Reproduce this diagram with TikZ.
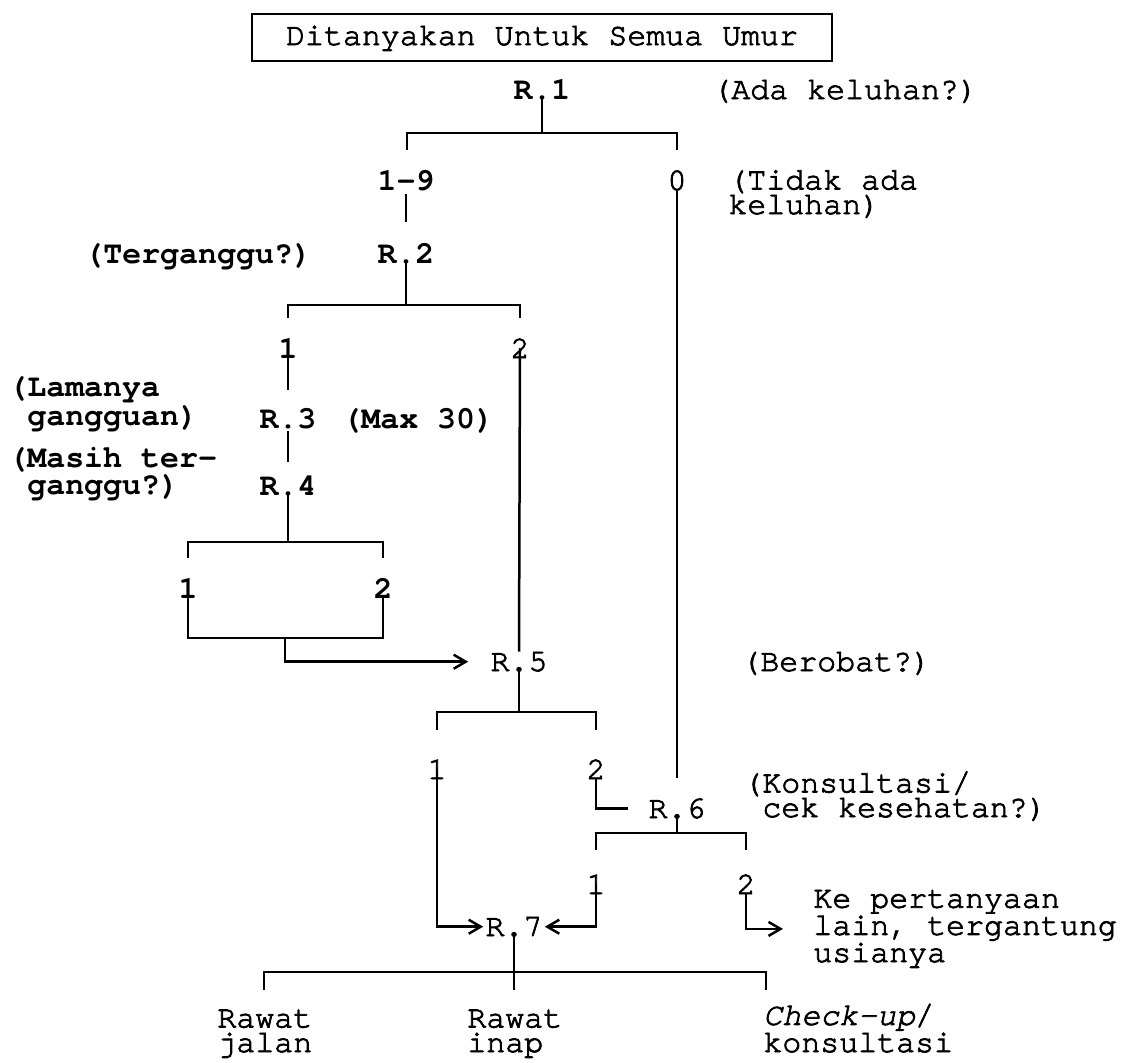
\documentclass[tikz,border=0pt]{standalone}
\usepackage{fontspec}
\setmonofont{texgyrecursor}[Extension=.otf,UprightFont=*-regular,BoldFont=*-bold,ItalicFont=*-italic,BoldItalicFont=*-bolditalic,UprightFeatures={FakeBold=2.5},ItalicFeatures={FakeBold=2.5}]
\usetikzlibrary{arrows.meta}
\newcommand{\qfont}{\ttfamily\fontsize{15.8}{12.3}\selectfont}
\newcommand{\qbfont}{\ttfamily\bfseries\fontsize{15.8}{12.3}\selectfont}

\begin{document}
\begin{tikzpicture}[x=0.5pt,y=-0.5pt,>={Straight Barb[length=6pt,width=7pt]},
    lbl/.style={inner sep=0pt,anchor=base,font=\qfont},
    blbl/.style={inner sep=0pt,anchor=base,font=\qbfont},
    note/.style={lbl,anchor=base west,align=left},
    bnote/.style={blbl,anchor=base west,align=left},
    wire/.style={line width=1.25pt}]
  \useasboundingbox (0,0) rectangle (1133,1062);
  \node[lbl,draw,wire,minimum width=290pt,text height=11.5pt,text depth=4pt,inner ysep=4pt] (head) at (542,45) {Ditanyakan Untuk Semua Umur};

  \node[blbl] (r1) at (542,99) {R.1};
  \node[note] (q1) at (712,99) {(Ada keluhan?)};
  \draw[wire] (r1.base) -- (542,133);
  \draw[wire] (407,150) |- (677,133) -- (677,150);

  \node[blbl] (a19) at (406,190) {1-9};
  \node[lbl] (a0) at (677,190) {0};
  \node[note] (q0) at (728,214) {(Tidak ada\\keluhan)};
  \draw[wire] (a19.south) ++(0,3) -- (406,222);

  \node[blbl] (r2) at (406,263) {R.2};
  \node[bnote] (q2) at (84,263) {(Terganggu?)};
  \draw[wire] (r2.base) -- (406,305);
  \draw[wire] (288,318) |- (520,305) -- (520,318);
  \node[blbl] (b1) at (288,358) {1};
  \node[lbl] (b2) at (520,358) {2};
  \draw[wire] (b1.center) -- (288,390);

  \node[blbl] (r3) at (288,428) {R.3};
  \node[bnote] (q3) at (8,425) {(Lamanya\\\phantom{(}gangguan)};
  \node[bnote] (cap) at (342,428) {(Max 30)};
  \draw[wire] (r3.base) ++(0,3) -- (288,462);

  \node[blbl] (r4) at (288,495) {R.4};
  \node[bnote] (q4) at (8,494) {(Masih ter-\\\phantom{(}ganggu?)};
  \draw[wire] (r4.base) -- (288,542);
  \draw[wire] (188,558) |- (383,542) -- (383,558);
  \node[blbl] (c1) at (188,598) {1};
  \node[blbl] (c2) at (383,598) {2};
  \draw[wire] (c1.center) |- (383,638) -- (c2.south);

  \node[lbl] (r5) at (519,671) {R.5};
  \node[note] (q5) at (741,671) {(Berobat?)};
  \draw[wire,->] (285,638) |- ([xshift=-11pt]r5.west);
  \draw[wire] (b2.center) -- (r5.north);
  \draw[wire] (r5.base) -- (519,712);
  \draw[wire] (437,730) |- (596,712) -- (596,730);
  \node[lbl] (d1) at (437,779) {1};
  \node[lbl] (d2) at (596,779) {2};

  \node[lbl] (r6) at (677,818) {R.6};
  \node[note] (q6) at (743,817) {(Konsultasi/\\\phantom{(}cek kesehatan?)};
  \draw[wire] (a0.south) -- (677,778);
  \draw[wire] (d2.south) |- ([xshift=-10pt]r6.west);
  \draw[wire] (r6.base) -- (677,833);
  \draw[wire] (596,850) |- (746,833) -- (746,850);
  \node[lbl] (e1) at (596,894) {1};
  \node[lbl] (e2) at (746,894) {2};

  \node[lbl] (r7) at (514,936) {R.7};
  \node[note] (next) at (813,962) {Ke pertanyaan\\lain, tergantung\\usianya};
  \draw[wire,->,shorten >=1pt] (d1.center) |- (r7.west);
  \draw[wire,->,shorten >=1pt] (e1.center) |- (r7.east);
  \draw[wire,->] (e2.south) |- ([xshift=-15pt]next.west);
  \draw[wire] (r7.base) -- (514,990);
  \draw[wire] (264,990) |- (766,972) -- (766,990);

  \node[note] (o1) at (217,1052) {Rawat\\jalan};
  \node[note] (o2) at (467,1052) {Rawat\\inap};
  \node[note] (o3) at (763,1052) {\textit{Check-up}/\\konsultasi};
\end{tikzpicture}
\end{document}
